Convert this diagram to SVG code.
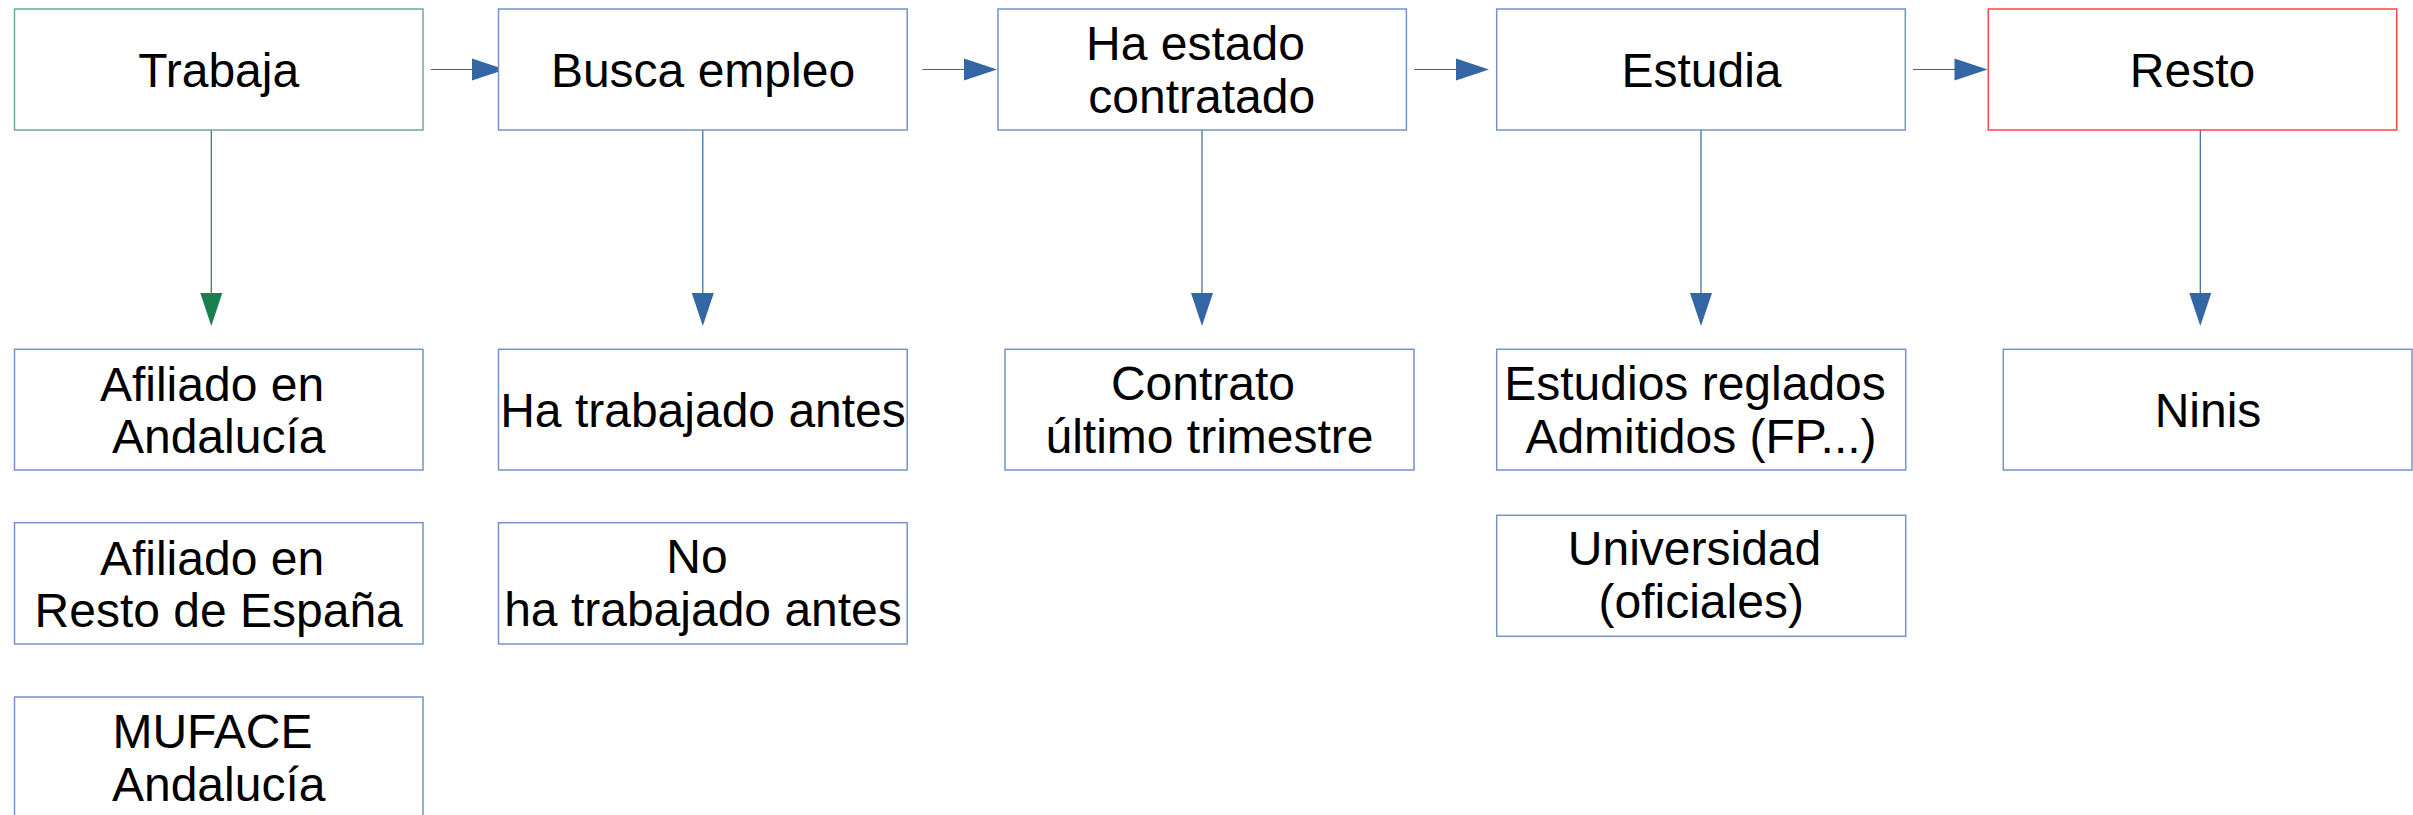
<svg xmlns="http://www.w3.org/2000/svg" width="2413" height="815" viewBox="0 0 2413 815">
<style>
.box{fill:#ffffff;stroke:#7494c8;stroke-width:1.5}
.g{stroke:#6aae8c}
.r{stroke:#ff4545}
text{font-family:"Liberation Sans",Arial,sans-serif;font-size:48px;fill:#000000;text-anchor:middle}
.cb{stroke:#3465a4;stroke-width:1.2;fill:none}
.cg{stroke:#18804f;stroke-width:1.2;fill:none}
.hb{fill:#3465a4}
.hg{fill:#18804f}
</style>
<rect width="2413" height="815" fill="#ffffff"/>
<g id="connectors">
<line class="cb" x1="431" y1="69.5" x2="473" y2="69.5"/><polygon class="hb" points="472,58.5 505,69.5 472,80.5"/>
<line class="cb" x1="922.5" y1="69.5" x2="965" y2="69.5"/><polygon class="hb" points="964,58.5 997,69.5 964,80.5"/>
<line class="cb" x1="1414" y1="69.5" x2="1457" y2="69.5"/><polygon class="hb" points="1456,58.5 1489,69.5 1456,80.5"/>
<line class="cb" x1="1913" y1="69.5" x2="1955.5" y2="69.5"/><polygon class="hb" points="1954.5,58.5 1987.5,69.5 1954.5,80.5"/>
<line class="cg" x1="211.3" y1="130" x2="211.3" y2="294"/><polygon class="hg" points="200.3,293 222.3,293 211.3,326"/>
<line class="cb" x1="702.8" y1="130" x2="702.8" y2="294"/><polygon class="hb" points="691.8,293 713.8,293 702.8,326"/>
<line class="cb" x1="1202" y1="130" x2="1202" y2="294"/><polygon class="hb" points="1191,293 1213,293 1202,326"/>
<line class="cb" x1="1701" y1="130" x2="1701" y2="294"/><polygon class="hb" points="1690,293 1712,293 1701,326"/>
<line class="cb" x1="2200.3" y1="130" x2="2200.3" y2="294"/><polygon class="hb" points="2189.3,293 2211.3,293 2200.3,326"/>
</g>
<g id="trabaja"><rect class="box g" x="14.5" y="9" width="408.5" height="121"/><text x="218.7" y="87">Trabaja</text></g>
<g id="busca"><rect class="box" x="498.5" y="9" width="408.7" height="121"/><text x="703" y="87">Busca empleo</text></g>
<g id="contratado"><rect class="box" x="998" y="9" width="408.4" height="121"/><text x="1195.5" y="60">Ha estado</text><text x="1201.7" y="113">contratado</text></g>
<g id="estudia"><rect class="box" x="1496.7" y="9" width="408.6" height="121"/><text x="1701.5" y="87">Estudia</text></g>
<g id="resto"><rect class="box r" x="1988.3" y="9" width="408.4" height="121"/><text x="2192.5" y="87">Resto</text></g>
<g id="afiliado-andalucia"><rect class="box" x="14.5" y="349.3" width="408.5" height="120.7"/><text x="212" y="400.7">Afiliado en</text><text x="218.7" y="453.3">Andalucía</text></g>
<g id="afiliado-resto"><rect class="box" x="14.5" y="522.7" width="408.5" height="121.3"/><text x="212" y="575">Afiliado en</text><text x="218.7" y="626.7">Resto de España</text></g>
<g id="muface"><rect class="box" x="14.5" y="697" width="408.5" height="121"/><text x="212.4" y="748.3">MUFACE</text><text x="218.7" y="800.7">Andalucía</text></g>
<g id="ha-trabajado"><rect class="box" x="498.5" y="349.3" width="408.7" height="120.7"/><text x="703" y="427">Ha trabajado antes</text></g>
<g id="no-ha-trabajado"><rect class="box" x="498.5" y="522.7" width="408.7" height="121.3"/><text x="697" y="573.3">No</text><text x="703" y="626">ha trabajado antes</text></g>
<g id="contrato"><rect class="box" x="1005" y="349.3" width="409" height="120.7"/><text x="1203" y="400">Contrato</text><text x="1209.5" y="452.7">último trimestre</text></g>
<g id="estudios-reglados"><rect class="box" x="1496.7" y="349.3" width="409" height="120.7"/><text x="1695" y="400">Estudios reglados</text><text x="1701" y="453.3">Admitidos (FP...)</text></g>
<g id="universidad"><rect class="box" x="1496.7" y="515.3" width="409" height="121"/><text x="1694.5" y="565.3">Universidad</text><text x="1701.2" y="618.3">(oficiales)</text></g>
<g id="ninis"><rect class="box" x="2003.3" y="349.3" width="408.7" height="120.7"/><text x="2208" y="426.7">Ninis</text></g>
</svg>
